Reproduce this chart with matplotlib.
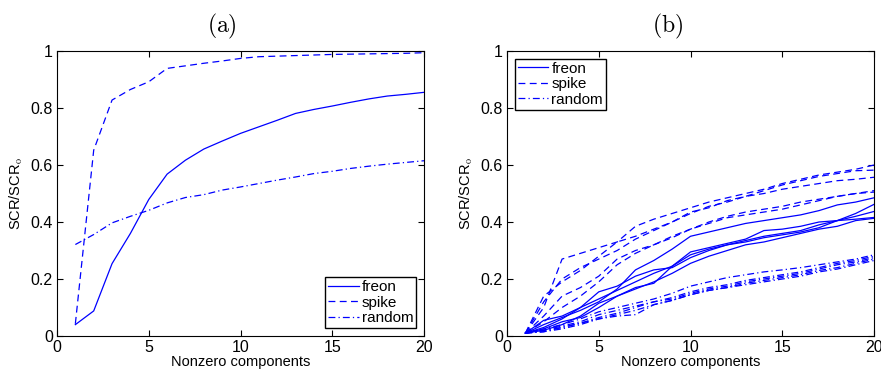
import matplotlib.pyplot as plt

plt.rcParams['font.family'] = ['Liberation Sans', 'DejaVu Sans']
plt.rcParams['mathtext.fontset'] = 'cm'

# -----------------------------
# Data
# -----------------------------
x = list(range(1, 21))

# panel (a)
freon_a = [0.04, 0.088, 0.254, 0.36, 0.479, 0.568, 0.617, 0.656, 0.684, 0.711,
           0.734, 0.757, 0.781, 0.795, 0.807, 0.82, 0.832, 0.842, 0.848, 0.855]
spike_a = [0.043, 0.652, 0.828, 0.865, 0.892, 0.939, 0.948, 0.957, 0.965, 0.974,
           0.98, 0.982, 0.984, 0.986, 0.988, 0.989, 0.99, 0.991, 0.992, 0.994]
random_a = [0.321, 0.356, 0.397, 0.42, 0.441, 0.467, 0.486, 0.496, 0.512, 0.523,
            0.535, 0.547, 0.558, 0.57, 0.578, 0.588, 0.596, 0.603, 0.609, 0.615]

# panel (b): five runs per method
freon_b = [
    [0.01, 0.04, 0.065, 0.09, 0.12, 0.165, 0.232, 0.265, 0.305, 0.35,
     0.365, 0.38, 0.395, 0.405, 0.415, 0.425, 0.44, 0.46, 0.47, 0.485],
    [0.01, 0.055, 0.07, 0.10, 0.155, 0.175, 0.21, 0.232, 0.24, 0.275,
     0.30, 0.32, 0.33, 0.345, 0.355, 0.365, 0.38, 0.405, 0.43, 0.462],
    [0.01, 0.03, 0.06, 0.10, 0.13, 0.16, 0.19, 0.22, 0.245, 0.285,
     0.305, 0.32, 0.335, 0.35, 0.36, 0.37, 0.39, 0.405, 0.42, 0.437],
    [0.01, 0.025, 0.05, 0.065, 0.10, 0.14, 0.17, 0.185, 0.245, 0.295,
     0.31, 0.325, 0.34, 0.37, 0.375, 0.385, 0.40, 0.405, 0.41, 0.416],
    [0.01, 0.02, 0.04, 0.07, 0.115, 0.14, 0.165, 0.19, 0.22, 0.255,
     0.28, 0.30, 0.32, 0.33, 0.345, 0.36, 0.375, 0.385, 0.405, 0.413],
]
spike_b = [
    [0.01, 0.10, 0.27, 0.29, 0.31, 0.33, 0.385, 0.41, 0.43, 0.45,
     0.47, 0.485, 0.50, 0.515, 0.535, 0.55, 0.565, 0.575, 0.585, 0.60],
    [0.01, 0.14, 0.19, 0.23, 0.28, 0.33, 0.35, 0.375, 0.40, 0.435,
     0.45, 0.475, 0.49, 0.51, 0.53, 0.545, 0.56, 0.57, 0.58, 0.582],
    [0.01, 0.12, 0.20, 0.24, 0.27, 0.30, 0.34, 0.37, 0.40, 0.43,
     0.455, 0.47, 0.49, 0.50, 0.515, 0.525, 0.535, 0.545, 0.55, 0.557],
    [0.01, 0.07, 0.14, 0.17, 0.21, 0.27, 0.30, 0.32, 0.345, 0.375,
     0.395, 0.415, 0.425, 0.435, 0.445, 0.46, 0.475, 0.49, 0.50, 0.505],
    [0.01, 0.05, 0.10, 0.14, 0.19, 0.25, 0.29, 0.32, 0.35, 0.375,
     0.40, 0.42, 0.435, 0.445, 0.455, 0.47, 0.48, 0.49, 0.50, 0.51],
]
random_b = [
    [0.01, 0.025, 0.04, 0.06, 0.085, 0.10, 0.115, 0.13, 0.15, 0.175,
     0.19, 0.205, 0.215, 0.225, 0.232, 0.24, 0.25, 0.26, 0.27, 0.285],
    [0.01, 0.02, 0.035, 0.05, 0.075, 0.09, 0.105, 0.12, 0.135, 0.155,
     0.17, 0.18, 0.195, 0.205, 0.215, 0.225, 0.24, 0.255, 0.265, 0.28],
    [0.01, 0.02, 0.03, 0.045, 0.065, 0.08, 0.10, 0.12, 0.13, 0.15,
     0.165, 0.175, 0.19, 0.20, 0.21, 0.22, 0.235, 0.25, 0.26, 0.275],
    [0.01, 0.015, 0.03, 0.045, 0.06, 0.07, 0.075, 0.11, 0.125, 0.145,
     0.16, 0.17, 0.185, 0.195, 0.205, 0.215, 0.23, 0.24, 0.255, 0.27],
    [0.01, 0.015, 0.025, 0.04, 0.06, 0.075, 0.09, 0.11, 0.125, 0.145,
     0.16, 0.17, 0.18, 0.19, 0.20, 0.21, 0.225, 0.235, 0.25, 0.265],
]

xticks = [0, 5, 10, 15, 20]
yticks = [0, 0.2, 0.4, 0.6, 0.8, 1]
ytick_labels = ["0", "0.2", "0.4", "0.6", "0.8", "1"]

blue = "#0000ff"
styles = {"freon": "-", "spike": (0, (5.5, 3.5)), "random": (0, (5.5, 2.5, 1, 2.5))}

# -----------------------------
# Plot
# -----------------------------
fig = plt.figure(figsize=(8.81, 3.71), dpi=100)
ax_a = fig.add_axes([0.0647, 0.0943, 0.4166, 0.7682])
ax_b = fig.add_axes([0.5755, 0.0943, 0.4166, 0.7682])

ax_a.plot(x, freon_a, color=blue, ls=styles["freon"], lw=0.9, label="freon")
ax_a.plot(x, spike_a, color=blue, ls=styles["spike"], lw=0.9, label="spike")
ax_a.plot(x, random_a, color=blue, ls=styles["random"], lw=0.9, label="random")

for i, f in enumerate(freon_b):
    ax_b.plot(x, f, color=blue, ls=styles["freon"], lw=0.9,
              label="freon" if i == 0 else None)
for i, s in enumerate(spike_b):
    ax_b.plot(x, s, color=blue, ls=styles["spike"], lw=0.9,
              label="spike" if i == 0 else None)
for i, r in enumerate(random_b):
    ax_b.plot(x, r, color=blue, ls=styles["random"], lw=0.9,
              label="random" if i == 0 else None)

for ax, loc in [(ax_a, "lower right"), (ax_b, "upper left")]:
    ax.set_xlim(0, 20)
    ax.set_ylim(0, 1)
    ax.set_xticks(xticks)
    ax.set_yticks(yticks)
    ax.set_yticklabels(ytick_labels)
    ax.tick_params(direction="in", top=True, right=True, length=4,
                   labelsize=11.5, pad=3)
    ax.set_xlabel("Nonzero components", fontsize=10.5, labelpad=0)
    ax.set_ylabel("SCR/SCR$_\\mathrm{o}$", fontsize=10.5, labelpad=4)
    for sp in ax.spines.values():
        sp.set_linewidth(0.8)
    leg = ax.legend(loc=loc, fontsize=11, fancybox=False, framealpha=1,
                    edgecolor="black", handlelength=2.0, handletextpad=0.2,
                    labelspacing=0.1, borderpad=0.2, borderaxespad=0.5)
    leg.get_frame().set_linewidth(1.0)

fig.text(0.252, 0.93, r"$\mathrm{(a)}$", ha="center", va="center", fontsize=17)
fig.text(0.758, 0.93, r"$\mathrm{(b)}$", ha="center", va="center", fontsize=17)

plt.savefig("out.png", dpi=100)
